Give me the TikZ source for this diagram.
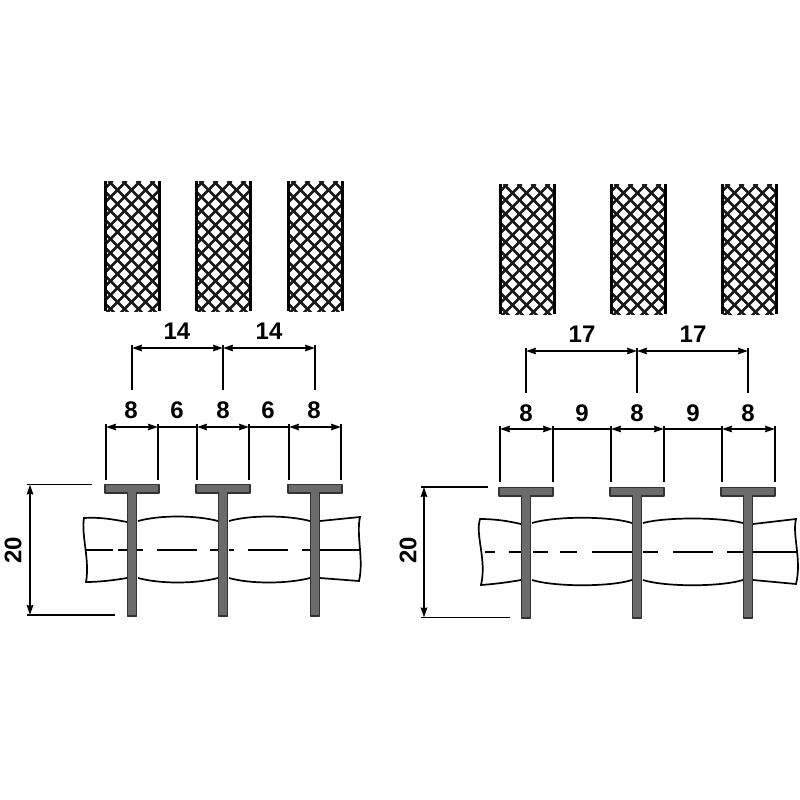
\documentclass[tikz,border=0pt]{standalone}
\usepackage{fontspec}
\setmainfont{Liberation Sans}
\usetikzlibrary{arrows.meta}
\begin{document}
\begin{tikzpicture}[
        x=1pt,
        y=-1pt,
        dimline/.style={
            {Stealth[length=10pt,width=6.5pt,inset=1pt]}-{Stealth[length=10pt,width=6.5pt,inset=1pt]},
            line width=1.6pt,
            draw=black
        },
        extline/.style={
            line width=1.6pt,
            draw=black
        },
        outline/.style={
            line width=1.7pt,
            draw=black
        },
        centerline/.style={
            line width=1.7pt,
            draw=black
        },
        pin/.style={
            fill=black!58,
            draw=black!80,
            line width=1.4pt,
            line join=round
        },
        meshline/.style={
            line width=2.7pt,
            draw=black!90
        },
        meshside/.style={
            line width=3pt,
            draw=black
        },
        dimlabel/.style={
            font=\fontsize{24}{24}\selectfont\bfseries,
            inner sep=0pt
        }
    ]
        \useasboundingbox (0,0) rectangle (800,800);

        % Mesh panels
        \foreach \x/\y in {105/181,196/181,288/181,500/184,611/184,722/184} {
            \begin{scope}
                \clip (\x,\y) rectangle ++(54,130);
                \foreach \k in {-14,...,14} {
                    \draw[meshline] (\x+3.5+14*\k,\y) -- ++(140,140);
                    \draw[meshline] (\x+7.5+14*\k,\y) -- ++(-140,140);
                }
            \end{scope}
            \draw[meshside] (\x,\y) -- ++(0,130);
            \draw[meshside] (\x+54,\y) -- ++(0,130);
        }

        % ============== Left ==============
        % Band
        \draw[outline] (127,522) .. controls (112,519) and (98,517) .. (84,518)
            .. controls (81,535) and (90,560) .. (86,582)
            .. controls (100,582) and (115,580) .. (127,578);
        \draw[outline] (138,521) .. controls (160,515) and (195,515) .. (218,521);
        \draw[outline] (138,578) .. controls (160,584) and (195,584) .. (218,578);
        \draw[outline] (229,521) .. controls (250,515) and (287,515) .. (310,521);
        \draw[outline] (229,578) .. controls (250,584) and (287,584) .. (310,578);
        \draw[outline] (320,521) -- (360,517) .. controls (356,535) and (364,560) .. (359,581) -- (320,578);
        \foreach \a/\b in {86/113,118/127,137/143,157/197,210/218,229/234,248/288,302/310,320/360} {
            \draw[centerline] (\a,550) -- (\b,550);
        }

        % Pins
        \foreach \x in {132,223,315} {
            \draw[pin] (\x-27,484.5) -- (\x+27,484.5) -- (\x+27,493) -- (\x+4.5,493)
                -- (\x+4.5,616) -- (\x-4.5,616) -- (\x-4.5,493) -- (\x-27,493) -- cycle;
        }

        % Dimensions
        \foreach \n/\x in {a/132,b/223,c/315} {
            \coordinate (pitch\n) at (\x,348);
            \draw[extline] (\x,345) -- (\x,390);
        }
        \draw[dimline] (pitcha) -- (pitchb);
        \draw[dimline] (pitchb) -- (pitchc);
        \node[dimlabel] (pitchlabela) at (177,331) {14};
        \node[dimlabel] (pitchlabelb) at (269,331) {14};

        \foreach \n/\x in {a/106,b/158,c/197,d/249,e/289,f/341} {
            \coordinate (width\n) at (\x,427);
            \draw[extline] (\x,424) -- (\x,480);
        }
        \draw[dimline] (widtha) -- (widthb);
        \draw[extline] (widthb) -- (widthc);
        \draw[dimline] (widthc) -- (widthd);
        \draw[extline] (widthd) -- (widthe);
        \draw[dimline] (widthe) -- (widthf);
        \node[dimlabel] (widthlabela) at (131,410) {8};
        \node[dimlabel] (widthlabelb) at (177,410) {6};
        \node[dimlabel] (widthlabelc) at (223,410) {8};
        \node[dimlabel] (widthlabeld) at (268,410) {6};
        \node[dimlabel] (widthlabele) at (314,410) {8};

        \coordinate (lengthtop) at (30,484.5);
        \coordinate (lengthbot) at (30,615);
        \draw[extline] (27,484.5) -- (92,484.5);
        \draw[extline] (27,615) -- (115,615);
        \draw[dimline] (lengthtop) -- (lengthbot);
        \node[dimlabel, rotate=90] (lengthlabel) at (13,550) {20};

        % ============== Right ==============
        % Band
        \draw[outline] (521,524) .. controls (508,521) and (495,519) .. (480,519)
            .. controls (475,535) and (487,560) .. (481,585)
            .. controls (495,584) and (510,582) .. (521,580);
        \draw[outline] (532,523) .. controls (555,516) and (610,516) .. (632,523);
        \draw[outline] (532,580) .. controls (555,587) and (610,587) .. (632,580);
        \draw[outline] (643,523) .. controls (665,517) and (720,517) .. (743,523);
        \draw[outline] (643,580) .. controls (665,587) and (720,587) .. (743,580);
        \draw[outline] (753,524) -- (796,519) .. controls (792,535) and (802,560) .. (796,584) -- (753,580);
        \foreach \a/\b in {485/495,509/521,533/548,560/577,592/632,643/658,673/713,727/743,753/797} {
            \draw[centerline] (\a,552) -- (\b,552);
        }

        % Pins
        \foreach \x in {526,637,748} {
            \draw[pin] (\x-27,487.5) -- (\x+27,487.5) -- (\x+27,496) -- (\x+4.5,496)
                -- (\x+4.5,618) -- (\x-4.5,618) -- (\x-4.5,496) -- (\x-27,496) -- cycle;
        }

        % Dimensions
        \foreach \n/\x in {a/526,b/637,c/748} {
            \coordinate (rpitch\n) at (\x,351);
            \draw[extline] (\x,348) -- (\x,393);
        }
        \draw[dimline] (rpitcha) -- (rpitchb);
        \draw[dimline] (rpitchb) -- (rpitchc);
        \node[dimlabel] (rpitchlabela) at (582,334) {17};
        \node[dimlabel] (rpitchlabelb) at (693,334) {17};

        \foreach \n/\x in {a/500,b/553,c/611,d/664,e/722,f/775} {
            \coordinate (rwidth\n) at (\x,429);
            \draw[extline] (\x,426) -- (\x,482);
        }
        \draw[dimline] (rwidtha) -- (rwidthb);
        \draw[extline] (rwidthb) -- (rwidthc);
        \draw[dimline] (rwidthc) -- (rwidthd);
        \draw[extline] (rwidthd) -- (rwidthe);
        \draw[dimline] (rwidthe) -- (rwidthf);
        \node[dimlabel] (rwidthlabela) at (526,413) {8};
        \node[dimlabel] (rwidthlabelb) at (582,413) {9};
        \node[dimlabel] (rwidthlabelc) at (637,413) {8};
        \node[dimlabel] (rwidthlabeld) at (693,413) {9};
        \node[dimlabel] (rwidthlabele) at (748,413) {8};

        \coordinate (rlengthtop) at (424,487);
        \coordinate (rlengthbot) at (424,617.5);
        \draw[extline] (421,487) -- (488,487);
        \draw[extline] (421,617.5) -- (510,617.5);
        \draw[dimline] (rlengthtop) -- (rlengthbot);
        \node[dimlabel, rotate=90] (rlengthlabel) at (408,550) {20};
\end{tikzpicture}
\end{document}
